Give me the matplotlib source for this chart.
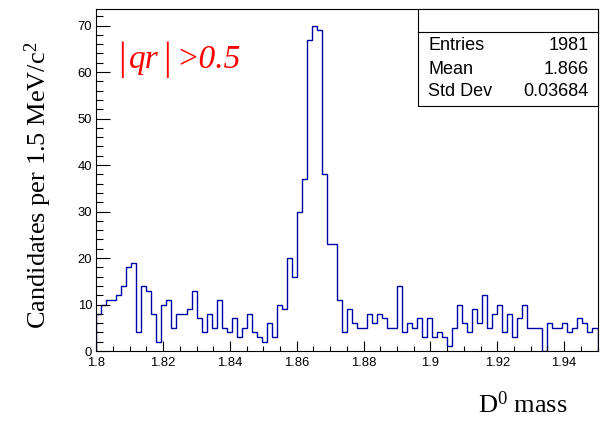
import numpy as np
import matplotlib
matplotlib.use("Agg")
import matplotlib.pyplot as plt
from matplotlib.patches import Rectangle
from matplotlib.lines import Line2D
from matplotlib.ticker import MultipleLocator, FuncFormatter

# ---- data ----
counts = [8, 10, 11, 11, 12, 14, 18, 19, 4, 14,
          13, 8, 2, 10, 11, 5, 8, 8, 9, 13,
          7, 4, 8, 5, 11, 5, 4, 7, 3, 5,
          8, 4, 3, 2, 6, 3, 10, 9, 20, 16,
          30, 37, 67, 70, 69, 38, 23, 23, 11, 4,
          9, 6, 5, 5, 8, 6, 8, 7, 5, 5,
          14, 4, 6, 5, 7, 3, 7, 3, 4, 3,
          1, 5, 10, 6, 4, 9, 6, 12, 5, 8,
          10, 4, 8, 3, 7, 10, 5, 5, 5, 0,
          6, 5, 5, 6, 4, 5, 7, 6, 4, 5]
x_min, x_max = 1.8, 1.95
stats_labels = ["Entries", "Mean", "Std Dev"]
stats_values = ["1981", "1.866", "0.03684"]
x_ticks = [1.8, 1.82, 1.84, 1.86, 1.88, 1.9, 1.92, 1.94]
y_ticks = [0, 10, 20, 30, 40, 50, 60, 70]

edges = np.linspace(x_min, x_max, len(counts) + 1)

plt.rcParams['mathtext.fontset'] = 'custom'
plt.rcParams['mathtext.rm'] = 'Liberation Serif'
plt.rcParams['mathtext.it'] = 'Liberation Serif:italic'

W, H = 604, 423
fig = plt.figure(figsize=(W / 100, H / 100), dpi=100)
fig.patch.set_facecolor('white')

def fx(px):
    return px / W

def fy(py):
    return 1 - py / H

ax_l, ax_r, ax_t, ax_b = 96.3, 597.5, 9.3, 351
ax = fig.add_axes([fx(ax_l), fy(ax_b), fx(ax_r - ax_l), (ax_b - ax_t) / H])

ax.stairs(counts, edges, color='#0000a8', lw=1.0, baseline=0)
ax.set_xlim(x_min, x_max)
ax.set_ylim(0, max(counts) * 1.05)

ax.set_xticks(x_ticks)
ax.set_yticks(y_ticks)
ax.xaxis.set_minor_locator(MultipleLocator(0.005))
ax.yaxis.set_minor_locator(MultipleLocator(2))
ax.xaxis.set_major_formatter(FuncFormatter(lambda v, p: f"{v:g}"))
ax.yaxis.set_major_formatter(FuncFormatter(lambda v, p: f"{v:g}"))

ax.tick_params(axis='both', which='both', direction='in', top=False, right=False,
               width=0.8, colors='black')
ax.tick_params(axis='y', which='major', length=10, pad=3)
ax.tick_params(axis='y', which='minor', length=5)
ax.tick_params(axis='x', which='major', length=7.5, pad=4)
ax.tick_params(axis='x', which='minor', length=3.7)
for lab in ax.get_xticklabels() + ax.get_yticklabels():
    lab.set_fontfamily('Liberation Sans')
    lab.set_fontsize(9.4)
for sp in ax.spines.values():
    sp.set_linewidth(0.8)
    sp.set_color('black')

# axis titles
fig.text(fx(38), fy(185), "Candidates per 1.5 MeV/c$^{2}$", rotation=90,
         ha='center', va='center', fontsize=19, family='Liberation Serif')
fig.text(fx(568), fy(405), "D$^{0}$ mass", ha='right', va='center',
         fontsize=19, family='Liberation Serif')

# selection label |qr|>0.5 (built from pieces to mimic ROOT's tall bars)
red = '#ff0000'
base_y = fy(68)
fig.text(fx(122), fy(59), "|", ha='center', va='center', fontsize=28,
         family='Liberation Serif', color=red)
fig.text(fx(129), base_y, "qr", ha='left', va='baseline', fontsize=24,
         family='Liberation Serif', style='italic', color=red)
fig.text(fx(167), fy(59), "|", ha='center', va='center', fontsize=28,
         family='Liberation Serif', color=red)
fig.text(fx(176), base_y, ">0.5", ha='left', va='baseline', fontsize=24,
         family='Liberation Serif', style='italic', color=red)

# stats box
bx_l, bx_r, bx_t, bx_b, bx_div = 418.3, 597.5, 9.3, 106, 32.3
fig.patches.append(Rectangle((fx(bx_l), fy(bx_b)), fx(bx_r - bx_l), (bx_b - bx_t) / H,
                             transform=fig.transFigure, facecolor='white',
                             edgecolor='black', lw=0.8, zorder=5))
fig.lines.append(Line2D([fx(bx_l), fx(bx_r)], [fy(bx_div), fy(bx_div)],
                        transform=fig.transFigure, color='black', lw=0.8, zorder=6))
row_y = [46, 69, 92]
for lab, val, yy in zip(stats_labels, stats_values, row_y):
    fig.text(fx(428), fy(yy), lab, ha='left', va='center', fontsize=13,
             family='Liberation Sans', zorder=7)
    fig.text(fx(589), fy(yy), val, ha='right', va='center', fontsize=13,
             family='Liberation Sans', zorder=7)

fig.savefig("out.png", dpi=100)
